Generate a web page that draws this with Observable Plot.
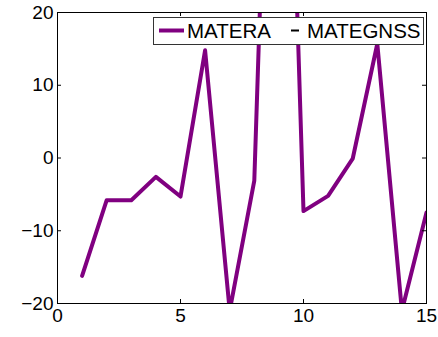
<!DOCTYPE html>
<html><head><meta charset="utf-8">
<script src="https://cdn.jsdelivr.net/npm/d3@7"></script>
<script src="https://cdn.jsdelivr.net/npm/@observablehq/plot@0.6"></script>
<style>body{margin:0;background:#fff} #chart{width:438px;height:337px}</style>
</head><body><div id="chart"></div>
<script>
const samples = [1, 2, 3, 4, 5, 6, 7, 8, 9, 10, 11, 12, 13, 14, 15];
const materaValues = [-16.2, -5.8, -5.8, -2.6, -5.3, 14.8, -21, -3.1, 100, -7.3, -5.2, -0.1, 15.7, -21, -7.5];
const xTicks = [0, 5, 10, 15];
const yTicks = [-20, -10, 0, 10, 20];
const legendLabels = ["MATERA", "MATEGNSS"];

const W = 438, H = 337, mL = 57, mR = 12, mT = 12, mB = 34;
const innerW = W - mL - mR, innerH = H - mT - mB;
const data = samples.map((x, i) => ({x, y: materaValues[i]}));
const fmt = d => d < 0 ? "\u2212" + Math.abs(d) : String(d);
const FONT = '"Liberation Sans", Arial, sans-serif';

const chart = Plot.plot({
  width: W, height: H,
  marginLeft: mL, marginRight: mR, marginTop: mT, marginBottom: mB,
  style: {fontFamily: FONT, fontSize: "19px", color: "#000", background: "#fff"},
  x: {domain: [0, 15]},
  y: {domain: [-20, 20]},
  marks: [
    Plot.line(data, {x: "x", y: "y", stroke: "#800080", strokeWidth: 4, clip: true}),
    Plot.tickX(xTicks, {x: d => d, insetTop: innerH - 4, stroke: "#000"}),
    Plot.tickX(xTicks, {x: d => d, insetBottom: innerH - 4, stroke: "#000"}),
    Plot.tickY(yTicks, {y: d => d, insetRight: innerW - 4, stroke: "#000"}),
    Plot.tickY(yTicks, {y: d => d, insetLeft: innerW - 4, stroke: "#000"}),
    Plot.frame({stroke: "#000"}),
    Plot.axisX({ticks: xTicks, tickSize: 0, tickPadding: 5, tickFormat: fmt, label: null}),
    Plot.axisY({ticks: yTicks, tickSize: 0, tickPadding: 4, tickFormat: fmt, label: null})
  ]
});

const svg = d3.select(chart);
const g = svg.append("g")
  .attr("text-anchor", "start")
  .style("font-family", FONT).style("font-size", "20.5px");
g.append("rect").attr("x", 153.5).attr("y", 17.5).attr("width", 270).attr("height", 27)
  .attr("fill", "#fff").attr("stroke", "#333");
g.append("line").attr("x1", 159).attr("x2", 184).attr("y1", 30.5).attr("y2", 30.5)
  .attr("stroke", "#800080").attr("stroke-width", 4);
g.append("text").attr("x", 187).attr("y", 37.5).attr("fill", "#000").text(legendLabels[0]);
g.append("line").attr("x1", 291).attr("x2", 299).attr("y1", 30.5).attr("y2", 30.5)
  .attr("stroke", "#000").attr("stroke-width", 2);
g.append("text").attr("x", 307).attr("y", 37.5).attr("fill", "#000").text(legendLabels[1]);

document.getElementById("chart").appendChild(chart);
</script>
</body></html>
